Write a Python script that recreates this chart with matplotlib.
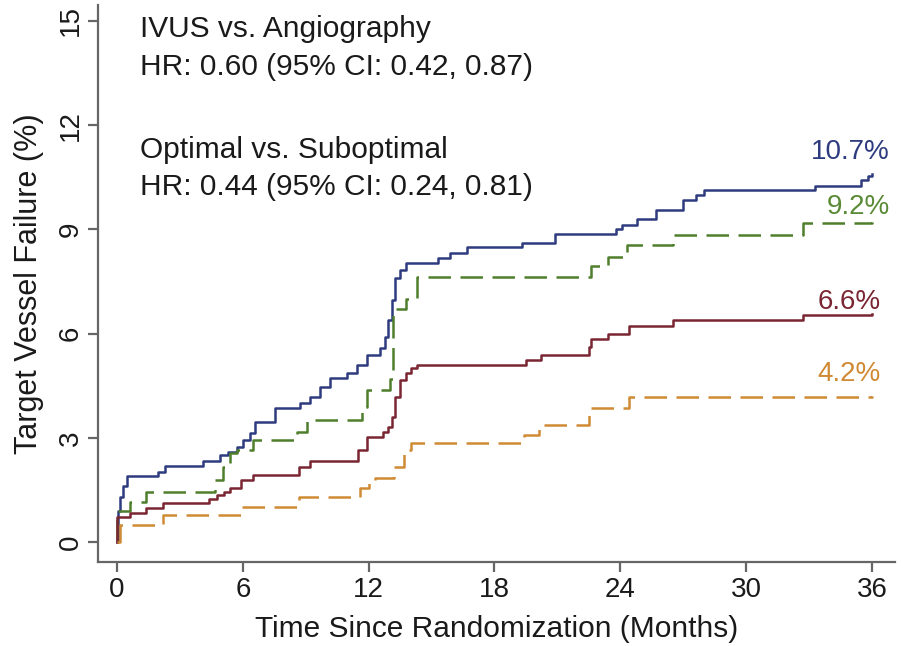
import matplotlib
matplotlib.use("Agg")
import matplotlib.pyplot as plt

plt.rcParams['font.family'] = ['Liberation Sans', 'DejaVu Sans']

# courbes de Kaplan-Meier (mois, %)
blue_t = [0, 0.05, 0.15, 0.3, 0.46, 1.96, 2.3, 4.1, 4.91, 5.31, 5.71, 6.02, 6.34, 6.58, 7.53,
          8.73, 9.2, 9.68, 10.16, 10.95, 11.43, 11.9, 12.54, 12.78, 12.94, 13.1, 13.26, 13.5, 13.8,
          15.3, 15.9, 16.7, 19.3, 20.9, 23.8, 24.1, 24.8, 25.7, 27.0, 27.6, 28.0, 33.3, 35.5, 35.8, 36.0]
blue_y = [0, 0.9, 1.3, 1.6, 1.9, 2.02, 2.19, 2.34, 2.5, 2.6, 2.74, 2.94, 3.13, 3.46, 3.85,
          4.0, 4.18, 4.47, 4.71, 4.86, 5.1, 5.38, 5.58, 5.91, 6.39, 6.97, 7.59, 7.83, 8.03,
          8.18, 8.32, 8.49, 8.6, 8.87, 9.0, 9.13, 9.3, 9.56, 9.85, 9.99, 10.13, 10.25, 10.42, 10.55, 10.6]

green_t = [0, 0.02, 0.62, 1.4, 4.67, 5.07, 5.39, 5.71, 6.5, 8.6, 9.04, 11.67, 11.9, 13.0,
           13.18, 13.8, 14.3, 22.6, 23.4, 24.3, 26.5, 32.7, 36.0]
green_y = [0, 0.9, 1.16, 1.45, 1.79, 2.17, 2.56, 2.65, 2.94, 3.18, 3.51, 3.9, 4.38, 4.7,
           6.7, 7.0, 7.64, 7.95, 8.21, 8.55, 8.84, 9.18, 9.2]

red_t = [0, 0.02, 0.62, 1.4, 2.2, 4.4, 4.75, 5.1, 5.4, 5.9, 6.5, 8.7, 9.2, 11.5, 11.9, 12.7,
         12.94, 13.1, 13.25, 13.5, 13.8, 14.0, 14.3, 19.5, 20.2, 22.5, 22.6, 23.4, 24.4, 26.5, 32.7, 36.0]
red_y = [0, 0.73, 0.83, 0.98, 1.12, 1.25, 1.35, 1.45, 1.55, 1.79, 1.93, 2.17, 2.34, 2.65, 3.03, 3.18,
         3.32, 3.6, 4.18, 4.66, 4.86, 5.0, 5.1, 5.24, 5.38, 5.62, 5.84, 5.99, 6.22, 6.38, 6.54, 6.56]

orange_t = [0, 0.15, 2.2, 5.9, 8.7, 11.6, 12.0, 12.3, 13.2, 13.7, 14.0, 19.4, 20.1, 22.5, 24.4, 36.0]
orange_y = [0, 0.49, 0.78, 1.02, 1.3, 1.55, 1.7, 1.84, 2.15, 2.65, 2.84, 3.08, 3.37, 3.86, 4.18, 4.2]

end_labels = ['10.7%', '9.2%', '6.6%', '4.2%']
x_ticks = [0, 6, 12, 18, 24, 30, 36]
y_ticks = [0, 3, 6, 9, 12, 15]

c_blue, c_green, c_red, c_orange = '#2e3b7e', '#4f7e2c', '#7a2532', '#d08a34'
c_txt = '#1a1a1a'

fig = plt.figure(figsize=(9.04, 6.46), dpi=100)
ax = fig.add_axes([98 / 904, 84 / 646, 797 / 904, 557 / 646])

ax.step(blue_t, blue_y, where='post', color=c_blue, lw=1.8)
ax.step(green_t, green_y, where='post', color=c_green, lw=1.8, dashes=(9, 3.8))
ax.step(red_t, red_y, where='post', color=c_red, lw=1.8)
ax.step(orange_t, orange_y, where='post', color=c_orange, lw=1.8, dashes=(9, 3.8))

# pourcentages en fin de courbe
ax.text(36.86, 11.23, end_labels[0], color=c_blue, fontsize=20, ha='right', va='center')
ax.text(36.86, 9.65, end_labels[1], color='#5a8a36', fontsize=20, ha='right', va='center')
ax.text(36.4, 6.91, end_labels[2], color=c_red, fontsize=20, ha='right', va='center')
ax.text(36.4, 4.84, end_labels[3], color=c_orange, fontsize=20, ha='right', va='center')

# HR
ax.text(1.1, 14.54, 'IVUS vs. Angiography', fontsize=21.5, color=c_txt, va='baseline')
ax.text(1.1, 13.45, 'HR: 0.60 (95% CI: 0.42, 0.87)', fontsize=21.5, color=c_txt, va='baseline')
ax.text(1.1, 11.06, 'Optimal vs. Suboptimal', fontsize=21.5, color=c_txt, va='baseline')
ax.text(1.1, 9.99, 'HR: 0.44 (95% CI: 0.24, 0.81)', fontsize=21.5, color=c_txt, va='baseline')

ax.set_xlim(-0.906, 37.1)
ax.set_ylim(-0.576, 15.46)
ax.set_xticks(x_ticks)
ax.set_yticks(y_ticks)
ax.set_xlabel('Time Since Randomization (Months)', fontsize=21.5, color=c_txt, labelpad=9)
ax.set_ylabel('Target Vessel Failure (%)', fontsize=22, color=c_txt, labelpad=10)

for s in ['top', 'right']:
    ax.spines[s].set_visible(False)
for s in ['left', 'bottom']:
    ax.spines[s].set_color('#666666')
    ax.spines[s].set_linewidth(1.6)
ax.tick_params(direction='out', length=7, width=1.6, color='#666666', labelsize=20,
               labelcolor=c_txt)
ax.tick_params(axis='y', labelrotation=90)
for lab in ax.get_yticklabels():
    lab.set_va('center')

fig.savefig('out.png', dpi=100)
